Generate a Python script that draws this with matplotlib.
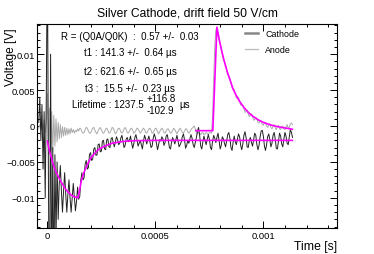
import numpy as np
import matplotlib
matplotlib.use("Agg")
import matplotlib.pyplot as plt
from matplotlib.lines import Line2D
from matplotlib.ticker import MultipleLocator, FuncFormatter

plt.rcParams['font.family'] = ['Liberation Sans', 'DejaVu Sans']

# scope traces, sampled every 5 us starting at -40 us (values in mV)
t_start_us = -40
t_step_us = 5

cathode_mv = [
    # -40 .. -5
    0.5, 4.0, -2.0, 3.0, -6.0, 2.0, -10.0, 4.0,
    # 0 .. 45
    25.0, -8.0, -30.0, 10.0, -25.0, -3.0, -22.0, -4.0, -16.0, -5.0,
    # 50 .. 145
    -13.0, -8.0, -5.5, -9.0, -12.0, -9.0, -6.5, -9.5, -12.0, -9.5,
    -7.5, -10.0, -12.0, -10.0, -8.0, -10.0, -11.8, -10.5, -8.5, -10.2,
    # 150 .. 295
    -9.8, -7.5, -6.5, -7.5, -7.2, -5.3, -4.8, -6.0, -5.8, -4.0,
    -3.7, -4.8, -4.6, -3.2, -3.0, -4.1, -4.0, -2.6, -2.5, -3.6,
    -3.5, -2.1, -2.0, -3.2, -3.3, -1.9, -1.8, -2.9, -3.0, -1.8,
    # 300 .. 1135
    -1.6, -2.3, -2.9, -2.2, -1.5, -1.9, -2.6, -2.4, -1.7, -1.3,
    -2.1, -3.0, -2.7, -1.8, -1.6, -2.2, -2.0, -1.4, -2.3, -3.1,
    -2.5, -1.6, -1.2, -1.9, -2.8, -2.4, -2.0, -2.6, -3.2, -2.1,
    -1.3, -1.8, -2.5, -1.9, -1.4, -2.2, -3.0, -2.8, -1.7, -1.1,
    -1.6, -2.4, -3.3, -2.6, -1.9, -2.1, -1.5, -1.8, -2.7, -2.3,
    -1.4, -1.2, -2.0, -3.0, -3.2, -2.3, -1.6, -2.0, -2.5, -1.9,
    -1.3, -2.1, -2.9, -2.6, -2.2, -1.5, -1.1, -1.9, -3.1, -2.7,
    -2.0, -2.4, -1.8, -1.2, -1.7, -2.6, -3.0, -2.3, -1.6, -0.7,
    -0.2, -1.3, -2.8, -3.2, -2.2, -1.4, -2.0, -2.6, -1.9, -1.2,
    -1.8, -3.0, -3.3, -2.1, -1.3, -1.7, -2.3, -1.6, -1.0, -2.0,
    -3.2, -2.7, -1.5, -1.8, -2.4, -2.9, -2.1, -1.2, -0.9, -1.7,
    -3.0, -3.4, -2.3, -1.4, -2.2, -2.6, -1.8, -1.1, -1.5, -2.7,
    -3.3, -2.5, -1.3, -0.8, -1.6, -2.9, -3.0, -2.0, -1.6, -2.3,
    -2.8, -1.9, -1.0, -1.3, -2.6, -3.3, -2.7, -1.5, -0.7, -0.6,
    -1.4, -2.8, -3.4, -2.6, -1.5, -1.1, -1.9, -2.9, -2.4, -1.3,
    -0.9, -1.8, -3.1, -3.2, -2.1, -1.0, -1.4, -2.5, -2.9, -1.8,
    -0.9, -1.4, -2.4, -2.6, -1.5, -0.5, -0.9, -1.6,
]

anode_mv = [
    # -40 .. -5
    -0.3, 0.2, -0.5, 0.4, -0.6, 0.8, -1.0, 0.5,
    # 0 .. 45
    4.5, -4.0, 2.5, -4.5, 2.0, -3.5, 1.5, -2.8, 1.0, -2.2,
    # 50 .. 145
    0.5, -1.8, 0.2, -1.6, -0.1, -1.4, -0.2, -1.3, -0.3, -1.2,
    -0.4, -1.1, -0.3, -0.9, -0.5, -1.0, -0.6, -0.8, -0.4, -0.7,
    # 150 .. 760
    -0.3, -0.4, -0.8, -1.0, -0.9, -0.5, -0.2, -0.3, -0.7, -1.0, -1.0, -0.6,
    -0.3, -0.2, -0.6, -0.9, -1.1, -0.7, -0.4, -0.2, -0.5, -0.9, -1.0, -0.8,
    -0.4, -0.3, -0.6, -1.0, -0.9, -0.6, -0.2, -0.3, -0.7, -1.1, -0.9, -0.5,
    -0.3, -0.4, -0.8, -1.0, -0.8, -0.4, -0.2, -0.5, -0.9, -1.0, -0.7, -0.4,
    -0.3, -0.6, -1.0, -0.9, -0.6, -0.3, -0.4, -0.7, -1.0, -0.8, -0.5, -0.3,
    -0.5, -0.9, -1.0, -0.7, -0.4, -0.3, -0.6, -1.0, -0.9, -0.6, -0.3, -0.4,
    -0.8, -1.1, -0.8, -0.5, -0.3, -0.5, -0.9, -1.0, -0.7, -0.4, -0.4, -0.7,
    -1.0, -0.9, -0.6, -0.3, -0.5, -0.8, -1.1, -0.8, -0.5, -0.3, -0.6, -0.9,
    -1.0, -0.7, -0.4, -0.4, -0.8, -1.0, -0.8, -0.5, -0.3, -0.2, 0.0, -0.4,
    -0.9, -1.1, -0.9, -1.0, -1.2, -1.0, -0.9, -1.2, -1.1, -0.9, -1.0, -1.2,
    -1.0, -0.9, -1.0,
    # 765 .. 1135
    1.5, 6.5, 11.0, 13.4, 13.5, 12.6, 11.9, 11.4, 10.9, 10.0,
    9.2, 8.9, 8.6, 7.8, 7.1, 6.9, 6.7, 6.0, 5.3, 5.2,
    5.1, 4.5, 3.9, 4.0, 4.0, 3.4, 2.9, 2.9, 2.9, 2.4,
    1.9, 2.0, 2.2, 1.7, 1.3, 1.5, 1.7, 1.3, 0.8, 0.9,
    1.2, 1.0, 0.5, 0.4, 0.8, 0.7, 0.2, 0.1, 0.5, 0.5,
    0.0, -0.2, 0.2, 0.3, -0.2, -0.4, 0.0, 0.2, -0.3, -0.5,
    -0.1, 0.1, -0.4, -0.5, -0.1, 0.0, -0.4, -0.5, -0.1, 0.2,
    -0.3, -0.2, 0.3, 0.4, 0.2,
]

# fit curves (us, mV)
cathode_fit_t = [0, 10, 20, 30, 40, 50, 60, 70, 80, 90, 100, 110, 120, 130, 142,
                 150, 158, 170, 188, 200, 219, 240, 266, 300, 350, 400, 500, 1134]
cathode_fit_v = [-2.1, -3.5, -4.6, -5.6, -6.4, -7.0, -7.6, -8.1, -8.6, -9.0, -9.3,
                 -9.6, -9.8, -9.9, -10.0, -8.8, -7.5, -6.4, -5.2, -4.5, -3.8, -3.2,
                 -2.8, -2.4, -2.15, -2.05, -2.0, -2.0]

anode_fit_t = [688, 766, 785, 795, 805, 815, 825, 835, 845, 860, 875, 890, 910,
               930, 950, 975, 1000, 1030, 1060, 1090, 1134]
anode_fit_v = [-0.65, -0.65, 13.75, 12.16, 10.74, 9.48, 8.36, 7.36, 6.48, 5.14,
               4.21, 3.43, 2.58, 1.91, 1.38, 0.88, 0.50, 0.18, -0.05, -0.22, -0.45]

fit_lines = [
    "R = (Q0A/Q0K)  :  0.57 +/-  0.03",
    "t1 : 141.3 +/-  0.64 \u00b5s",
    "t2 : 621.6 +/-  0.65 \u00b5s",
    "t3 :  15.5 +/-  0.23 \u00b5s",
]


def main():
    t_cat = (t_start_us + t_step_us * np.arange(len(cathode_mv))) * 1e-6
    t_an = (t_start_us + t_step_us * np.arange(len(anode_mv))) * 1e-6

    fig = plt.figure(figsize=(3.74, 2.55), dpi=100)
    ax = fig.add_axes([37 / 374, 1 - 229 / 255, 300 / 374, 204 / 255])

    ax.plot(t_an, np.array(anode_mv) * 1e-3, color='#aaaaaa', lw=0.7)
    ax.plot(t_cat, np.array(cathode_mv) * 1e-3, color='#222222', lw=0.7)
    ax.plot(np.array(cathode_fit_t) * 1e-6, np.array(cathode_fit_v) * 1e-3,
            color='#ff00ff', lw=1.2)
    ax.plot(np.array(anode_fit_t) * 1e-6, np.array(anode_fit_v) * 1e-3,
            color='#ff00ff', lw=1.2)

    ax.set_xlim(-0.000048, 0.001341)
    ax.set_ylim(-0.0142, 0.0142)

    fmt = FuncFormatter(lambda v, p: ('%g' % v).replace('-', '\u2212') if abs(v) > 1e-12 else '0')
    ax.xaxis.set_major_locator(MultipleLocator(0.0005))
    ax.xaxis.set_minor_locator(MultipleLocator(0.0001))
    ax.yaxis.set_major_locator(MultipleLocator(0.005))
    ax.yaxis.set_minor_locator(MultipleLocator(0.001))
    ax.xaxis.set_major_formatter(fmt)
    ax.yaxis.set_major_formatter(fmt)
    ax.tick_params(which='both', direction='in', top=True, right=True, labelsize=6.7, width=0.7)
    ax.tick_params(which='major', length=5)
    ax.tick_params(which='minor', length=2.5)
    ax.tick_params(axis='x', pad=2.5)
    ax.tick_params(axis='y', pad=1.5)
    for s in ax.spines.values():
        s.set_linewidth(0.8)

    ax.set_title("Silver Cathode, drift field 50 V/cm", fontsize=8.7, pad=6)
    ax.set_ylabel("Voltage [V]", fontsize=8.6, loc='top')
    ax.yaxis.set_label_coords(-0.067, 0.985)
    ax.set_xlabel("Time [s]", fontsize=8.8, loc='right')
    ax.xaxis.set_label_coords(1.0, -0.057)

    ys = [0.943, 0.863, 0.771, 0.686]
    for txt, y in zip(fit_lines, ys):
        ax.text(0.31, y, txt, transform=ax.transAxes, ha='center', va='center', fontsize=7)
    ax.text(0.354, 0.608, "Lifetime : 1237.5", transform=ax.transAxes,
            ha='right', va='center', fontsize=7)
    ax.text(0.366, 0.635, "+116.8", transform=ax.transAxes, ha='left', va='center', fontsize=7)
    ax.text(0.366, 0.580, "-102.9", transform=ax.transAxes, ha='left', va='center', fontsize=7)
    ax.text(0.473, 0.608, "\u00b5s", transform=ax.transAxes, ha='left', va='center', fontsize=7)

    handles = [Line2D([], [], color='#888888', lw=1.8), Line2D([], [], color='#bbbbbb', lw=0.9)]
    ax.legend(handles, ["Cathode", "Anode"], loc='upper left', bbox_to_anchor=(0.695, 0.975),
              frameon=False, fontsize=6.4, handlelength=1.4, handletextpad=0.8,
              labelspacing=0.8, borderpad=0, borderaxespad=0)

    fig.savefig("out.png", dpi=100)


if __name__ == "__main__":
    main()
